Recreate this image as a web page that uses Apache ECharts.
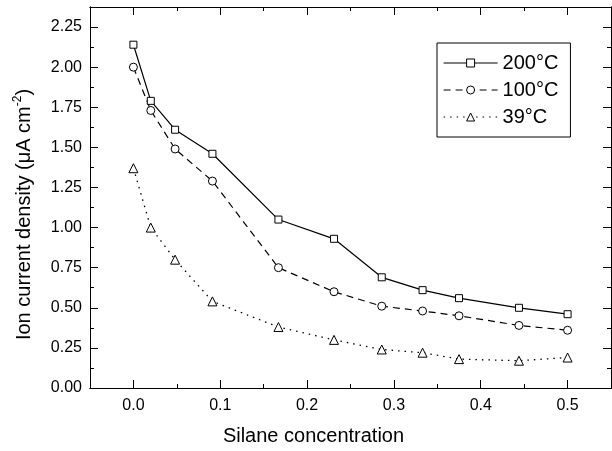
<!DOCTYPE html>
<html><head><meta charset="utf-8">
<script src="https://cdn.jsdelivr.net/npm/echarts@6/dist/echarts.min.js"></script>
<style>html,body{margin:0;padding:0;background:#fff}#c{width:612px;height:451px}</style>
</head><body><div id="c"></div>
<script>
const conc = [0, 0.02, 0.048, 0.091, 0.167, 0.231, 0.286, 0.333, 0.375, 0.444, 0.5];
const t200 = [2.14, 1.79, 1.61, 1.46, 1.05, 0.93, 0.69, 0.61, 0.56, 0.50, 0.46];
const t100 = [2.00, 1.73, 1.49, 1.29, 0.75, 0.60, 0.51, 0.48, 0.45, 0.39, 0.36];
const t39  = [1.37, 1.00, 0.80, 0.54, 0.38, 0.30, 0.24, 0.22, 0.18, 0.17, 0.19];
const seriesNames = ['200°C', '100°C', '39°C'];
const xTicks = [0.0, 0.1, 0.2, 0.3, 0.4, 0.5];
const xMinorTicks = [0.05, 0.15, 0.25, 0.35, 0.45];
const yTicks = [0, 0.25, 0.5, 0.75, 1.0, 1.25, 1.5, 1.75, 2.0, 2.25];
const yMinorTicks = [0.125, 0.375, 0.625, 0.875, 1.125, 1.375, 1.625, 1.875, 2.125];
const xRange = [-0.05, 0.55];
const yRange = [0, 2.375];

const FONT = 'Liberation Sans, Arial, sans-serif';
const chart = echarts.init(document.getElementById('c'), null, {renderer: 'canvas'});
function pairs(ys) { return conc.map((x, i) => [x, ys[i]]); }

function xAx(pos, vals, len, labels, name) {
  const a = {
    type: 'value', position: pos, min: xRange[0], max: xRange[1],
    axisLine: {show: true, onZero: false, lineStyle: {color: '#000', width: 1}},
    axisTick: {show: true, inside: true, length: len, customValues: vals, lineStyle: {color: '#000', width: 1}},
    axisLabel: labels ? {show: true, customValues: vals, formatter: v => v.toFixed(1), color: '#000', fontFamily: FONT, fontSize: 16, margin: 10} : {show: false},
    splitLine: {show: false}
  };
  if (name) {
    a.name = name; a.nameLocation = 'middle'; a.nameGap = 38;
    a.nameTextStyle = {color: '#000', fontFamily: FONT, fontSize: 20, padding: [0, 74, 0, 0]};
  }
  return a;
}
function yAx(pos, vals, len, labels, named) {
  const a = {
    type: 'value', position: pos, min: yRange[0], max: yRange[1],
    axisLine: {show: true, onZero: false, lineStyle: {color: '#000', width: 1}},
    axisTick: {show: true, inside: true, length: len, customValues: vals, lineStyle: {color: '#000', width: 1}},
    axisLabel: labels ? {show: true, customValues: vals, formatter: v => v.toFixed(2), color: '#000', fontFamily: FONT, fontSize: 16, margin: 8} : {show: false},
    splitLine: {show: false}
  };
  if (named) {
    a.name = '{t|Ion current density (μA cm}{s|-2}{t|)}';
    a.nameLocation = 'middle'; a.nameGap = 54; a.nameRotate = 90;
    a.nameTextStyle = {color: '#000', fontFamily: FONT, fontSize: 20, padding: [0, 34, 0, 0],
      rich: {t: {fontFamily: FONT, fontSize: 20, color: '#000', lineHeight: 24},
             s: {fontFamily: FONT, fontSize: 12, color: '#000', verticalAlign: 'top', lineHeight: 24, padding: [0, 0, 10, 0]}}};
  }
  return a;
}

const option = {
  animation: false,
  backgroundColor: '#fff',
  grid: {left: 90, top: 7, right: 1, bottom: 61, containLabel: false},
  xAxis: [
    xAx('bottom', xTicks, 8, true, 'Silane concentration'),
    xAx('bottom', xMinorTicks, 4, false),
    xAx('top', xTicks, 8, false),
    xAx('top', xMinorTicks, 4, false)
  ],
  yAxis: [
    yAx('left', yTicks, 8, true, true),
    yAx('left', yMinorTicks, 4, false),
    yAx('right', yTicks, 8, false),
    yAx('right', yMinorTicks, 4, false)
  ],
  legend: {
    orient: 'vertical', left: 437, top: 43,
    padding: [10, 12, 10, 6], itemGap: 7, itemWidth: 54, itemHeight: 10,
    borderColor: '#000', borderWidth: 1, backgroundColor: '#fff',
    itemStyle: {borderWidth: 1, color: '#fff', borderColor: '#000'},
    lineStyle: {width: 1.2},
    textStyle: {color: '#000', fontFamily: FONT, fontSize: 20, lineHeight: 20},
    data: seriesNames
  },
  series: [
    {name: seriesNames[0], type: 'line', data: pairs(t200), symbol: 'rect', symbolSize: 7,
     lineStyle: {color: '#000', width: 1.2, type: 'solid'},
     itemStyle: {color: '#fff', borderColor: '#000', borderWidth: 1}},
    {name: seriesNames[1], type: 'line', data: pairs(t100), symbol: 'circle', symbolSize: 8,
     lineStyle: {color: '#000', width: 1.2, type: [7, 5]},
     itemStyle: {color: '#fff', borderColor: '#000', borderWidth: 1}},
    {name: seriesNames[2], type: 'line', data: pairs(t39), symbol: 'triangle', symbolSize: 9,
     lineStyle: {color: '#000', width: 1.3, type: [1.5, 5]},
     itemStyle: {color: '#fff', borderColor: '#000', borderWidth: 1}}
  ]
};
chart.setOption(option);
</script></body></html>
